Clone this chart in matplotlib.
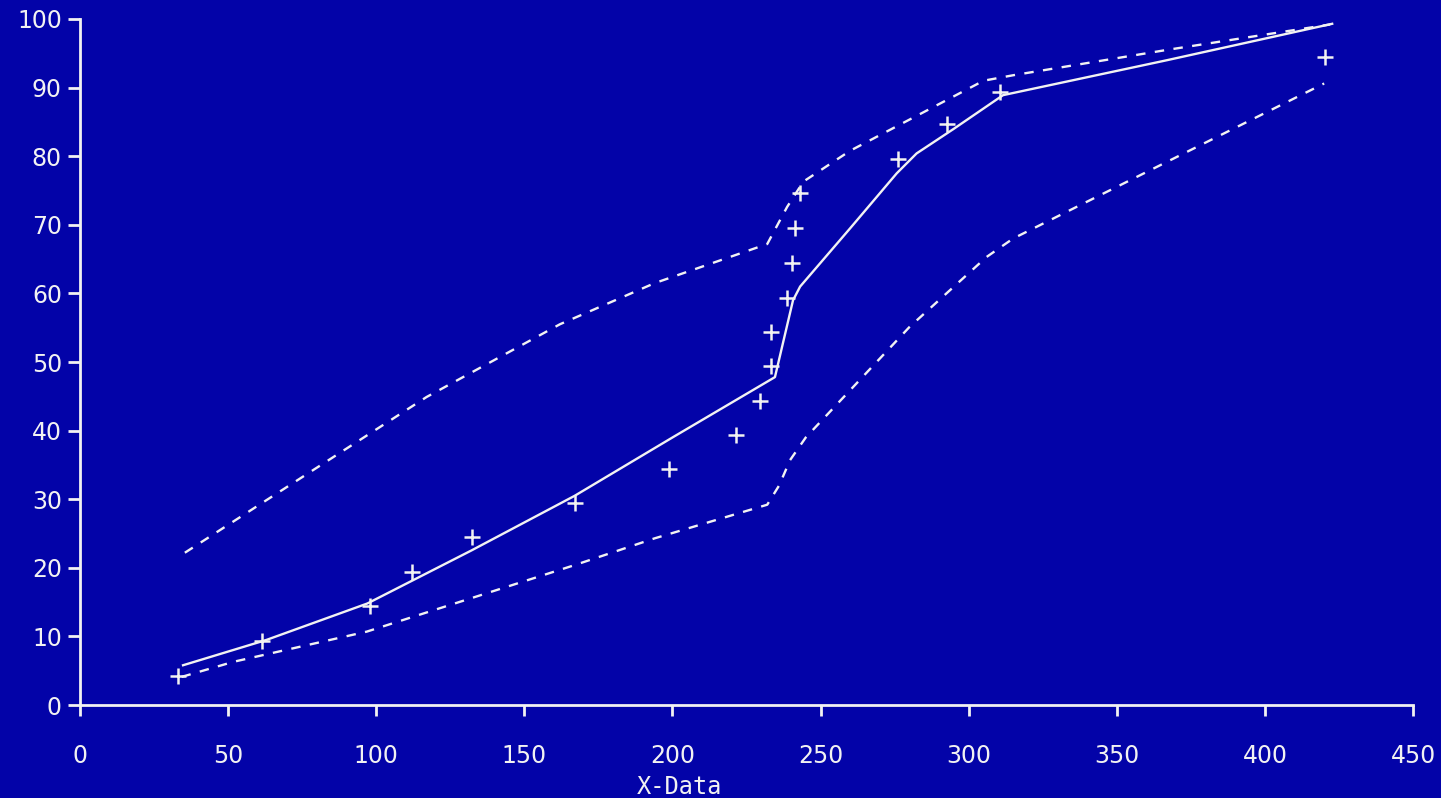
import matplotlib
matplotlib.use("Agg")
import matplotlib.pyplot as plt
import numpy as np

# observed points (+ markers)
pts_x = [33.1, 61.4, 97.9, 112.0, 132.3, 167.1, 198.8, 221.5, 229.6, 233.3,
         233.3, 238.7, 240.4, 241.4, 243.1, 276.2, 292.7, 310.6, 420.3]
pts_y = [4.3, 9.3, 14.4, 19.4, 24.5, 29.5, 34.4, 39.3, 44.3, 49.4,
         54.4, 59.3, 64.4, 69.5, 74.6, 79.6, 84.7, 89.4, 94.5]

# fitted curve (solid)
fit_x = [34.8, 63.0, 97.0, 132.0, 167.0, 200.0, 234.6, 240.7, 243.1, 260.0,
         275.7, 282.4, 295.0, 311.6, 367.0, 422.7]
fit_y = [5.8, 9.5, 14.8, 22.5, 30.5, 39.0, 47.8, 59.0, 61.0, 69.5,
         77.5, 80.4, 84.0, 88.9, 94.0, 99.3]

# upper band (dashed)
up_x = [35.4, 117.0, 162.0, 194.0, 232.0, 238.7, 244.2, 260.0, 305.0, 315.0, 367.0, 422.0]
up_y = [22.2, 44.9, 55.5, 61.5, 67.2, 72.6, 76.3, 80.8, 91.0, 91.8, 95.5, 99.2]

# lower band (dashed)
lo_x = [34.3, 51.8, 96.8, 167.0, 194.0, 232.0, 236.0, 239.7, 245.0, 280.0,
        306.0, 315.0, 374.0, 420.0]
lo_y = [4.1, 6.3, 10.7, 20.4, 24.3, 29.2, 32.0, 35.7, 39.0, 55.1,
        65.3, 68.0, 80.7, 90.6]

bg = '#0303A8'
fg = '#F2F2F2'

fig = plt.figure(figsize=(14.41, 7.98), dpi=100)
fig.patch.set_facecolor(bg)
ax = fig.add_axes([0.0555, 0.1165, 0.9251, 0.8597])
ax.set_facecolor(bg)

ax.plot(fit_x, fit_y, color=fg, lw=1.7)
ax.plot(up_x, up_y, color=fg, lw=1.7, dashes=(4, 4))
ax.plot(lo_x, lo_y, color=fg, lw=1.7, dashes=(4, 4))
ax.plot(pts_x, pts_y, '+', color=fg, ms=11, mew=1.8, linestyle='none')

ax.set_xlim(0, 450)
ax.set_ylim(0, 100)
ax.set_xticks(np.arange(0, 451, 50))
ax.set_yticks(np.arange(0, 101, 10))

for s in ['top', 'right']:
    ax.spines[s].set_visible(False)
for s in ['left', 'bottom']:
    ax.spines[s].set_color(fg)
    ax.spines[s].set_linewidth(2)

ax.tick_params(axis='x', colors=fg, length=8, width=2, pad=20, labelsize=17)
ax.tick_params(axis='y', colors=fg, length=9, width=2, pad=4, labelsize=17)

ax.set_xlabel("X-Data", color=fg, fontsize=17, family='DejaVu Sans Mono')
ax.xaxis.set_label_coords(0.45, -0.102)

plt.savefig("out.png", dpi=100, facecolor=bg)
